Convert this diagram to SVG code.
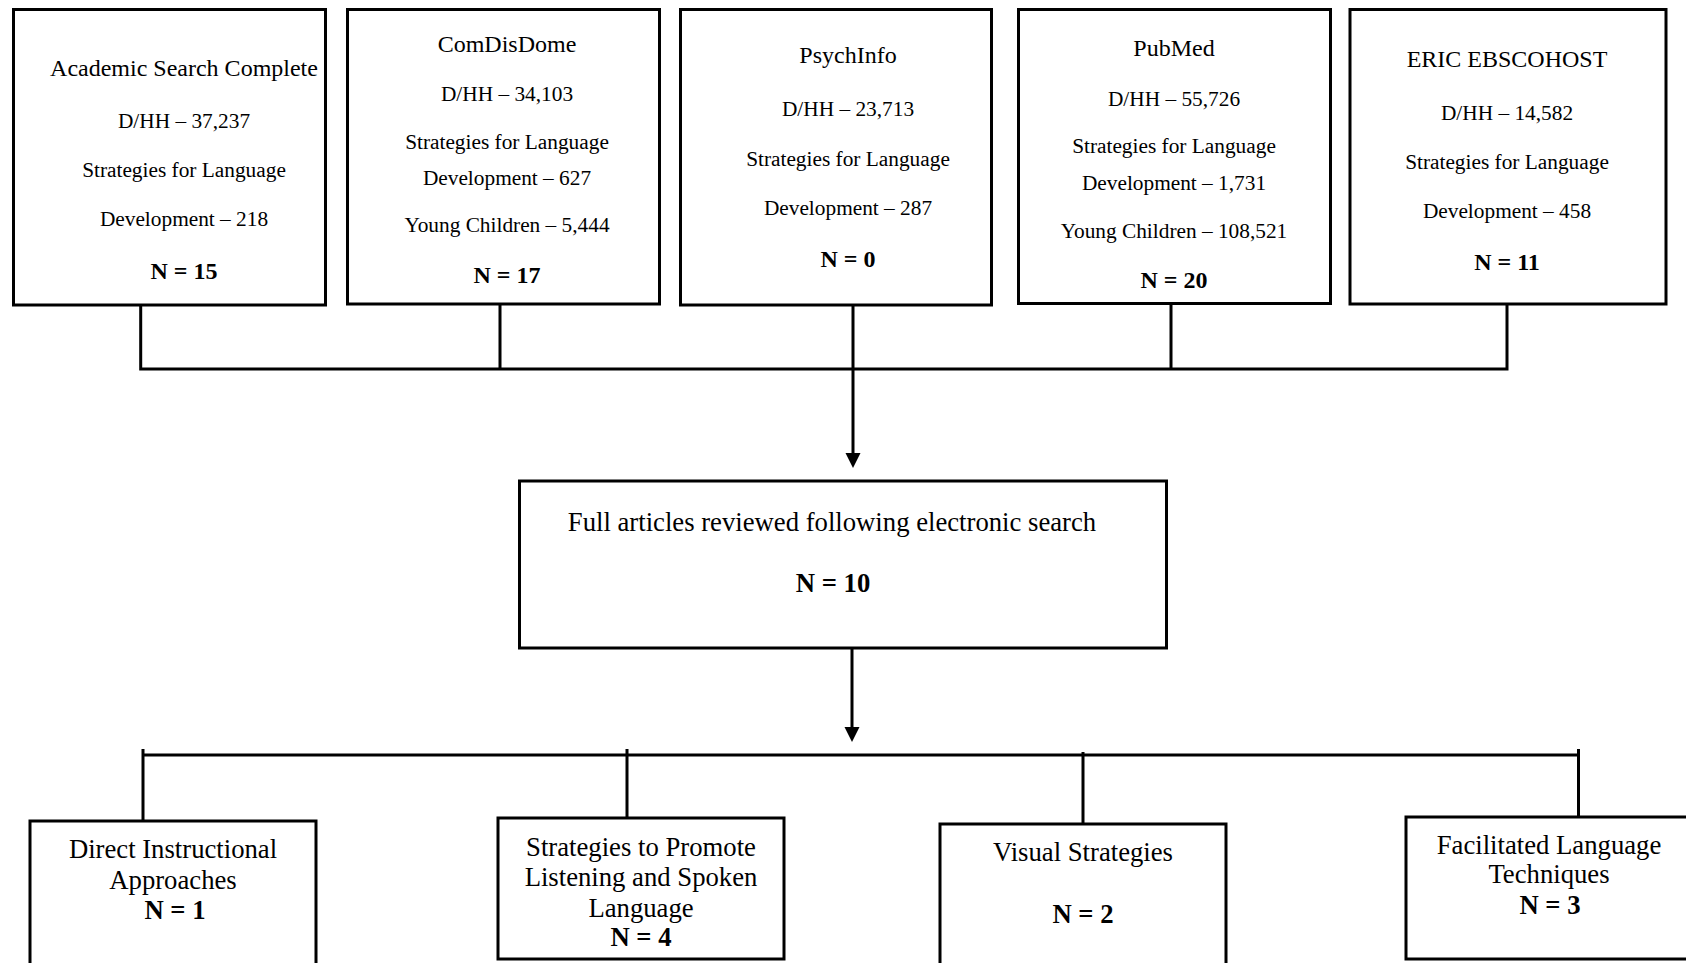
<svg xmlns="http://www.w3.org/2000/svg" width="1686" height="963" viewBox="0 0 1686 963">
<style>
.box{fill:#fff;stroke:#000;stroke-width:3}
.ln{fill:none;stroke:#000;stroke-width:3}
text{font-family:"Liberation Serif","Times New Roman",serif;fill:#000;text-anchor:middle}
.t{font-size:24px}
.s{font-size:21.33px}
.n{font-size:24px;font-weight:bold}
.m{font-size:26.7px}
.mb{font-size:26.7px;font-weight:bold}
</style>
<rect width="1686" height="963" fill="#fff"/>
<g id="connectors">
<path class="ln" d="M140.7 305V369M500 304V369M853 305V369M1171 304V369M1507 304V369M139.2 369H1508.5"/>
<path class="ln" d="M853 369V455"/>
<polygon points="845.5,453 860.5,453 853,468"/>
<path class="ln" d="M852 649V729"/>
<polygon points="844.5,727 859.5,727 852,742"/>
<path class="ln" d="M141.5 755H1580M143 749V820M627 749V818M1083 752V824M1578.5 749V817"/>
</g>
<g id="n1"><rect class="box" x="13.5" y="9.5" width="312" height="295.5"/>
<text class="t" x="184" y="76">Academic Search Complete</text>
<text class="s" x="184" y="128">D/HH – 37,237</text>
<text class="s" x="184" y="177">Strategies for Language</text>
<text class="s" x="184" y="226">Development – 218</text>
<text class="n" x="184" y="278.5">N = 15</text></g>
<g id="n2"><rect class="box" x="347.5" y="9.5" width="312" height="294.5"/>
<text class="t" x="507" y="52">ComDisDome</text>
<text class="s" x="507" y="101">D/HH – 34,103</text>
<text class="s" x="507" y="149">Strategies for Language</text>
<text class="s" x="507" y="185">Development – 627</text>
<text class="s" x="507" y="232">Young Children – 5,444</text>
<text class="n" x="507" y="282.5">N = 17</text></g>
<g id="n3"><rect class="box" x="680.5" y="9.5" width="311" height="295.5"/>
<text class="t" x="848" y="63">PsychInfo</text>
<text class="s" x="848" y="116">D/HH – 23,713</text>
<text class="s" x="848" y="165.5">Strategies for Language</text>
<text class="s" x="848" y="215">Development – 287</text>
<text class="n" x="848" y="266.5">N = 0</text></g>
<g id="n4"><rect class="box" x="1018.5" y="9.5" width="312" height="294"/>
<text class="t" x="1174" y="56">PubMed</text>
<text class="s" x="1174" y="106">D/HH – 55,726</text>
<text class="s" x="1174" y="153">Strategies for Language</text>
<text class="s" x="1174" y="190">Development – 1,731</text>
<text class="s" x="1174" y="238">Young Children – 108,521</text>
<text class="n" x="1174" y="288">N = 20</text></g>
<g id="n5"><rect class="box" x="1350" y="9.5" width="316" height="294.5"/>
<text class="t" x="1507" y="67">ERIC EBSCOHOST</text>
<text class="s" x="1507" y="120">D/HH – 14,582</text>
<text class="s" x="1507" y="169">Strategies for Language</text>
<text class="s" x="1507" y="218">Development – 458</text>
<text class="n" x="1507" y="270">N = 11</text></g>
<g id="mid"><rect class="box" x="519.5" y="481" width="647" height="167"/>
<text class="m" x="832" y="530.5">Full articles reviewed following electronic search</text>
<text class="mb" x="833" y="591.5">N = 10</text></g>
<g id="b1"><rect class="box" x="30" y="821" width="286" height="160"/>
<text class="m" x="173" y="858">Direct Instructional</text>
<text class="m" x="173" y="889">Approaches</text>
<text class="mb" x="175" y="919">N = 1</text></g>
<g id="b2"><rect class="box" x="498" y="818" width="286" height="141"/>
<text class="m" x="641" y="855.5">Strategies to Promote</text>
<text class="m" x="641" y="886">Listening and Spoken</text>
<text class="m" x="641" y="917">Language</text>
<text class="mb" x="641" y="946">N = 4</text></g>
<g id="b3"><rect class="box" x="940" y="824" width="286" height="160"/>
<text class="m" x="1083" y="861">Visual Strategies</text>
<text class="mb" x="1083" y="923">N = 2</text></g>
<g id="b4"><rect class="box" x="1406" y="817" width="300" height="142"/>
<text class="m" x="1549" y="853.5">Facilitated Language</text>
<text class="m" x="1549" y="883">Techniques</text>
<text class="mb" x="1550" y="914">N = 3</text></g>
</svg>
